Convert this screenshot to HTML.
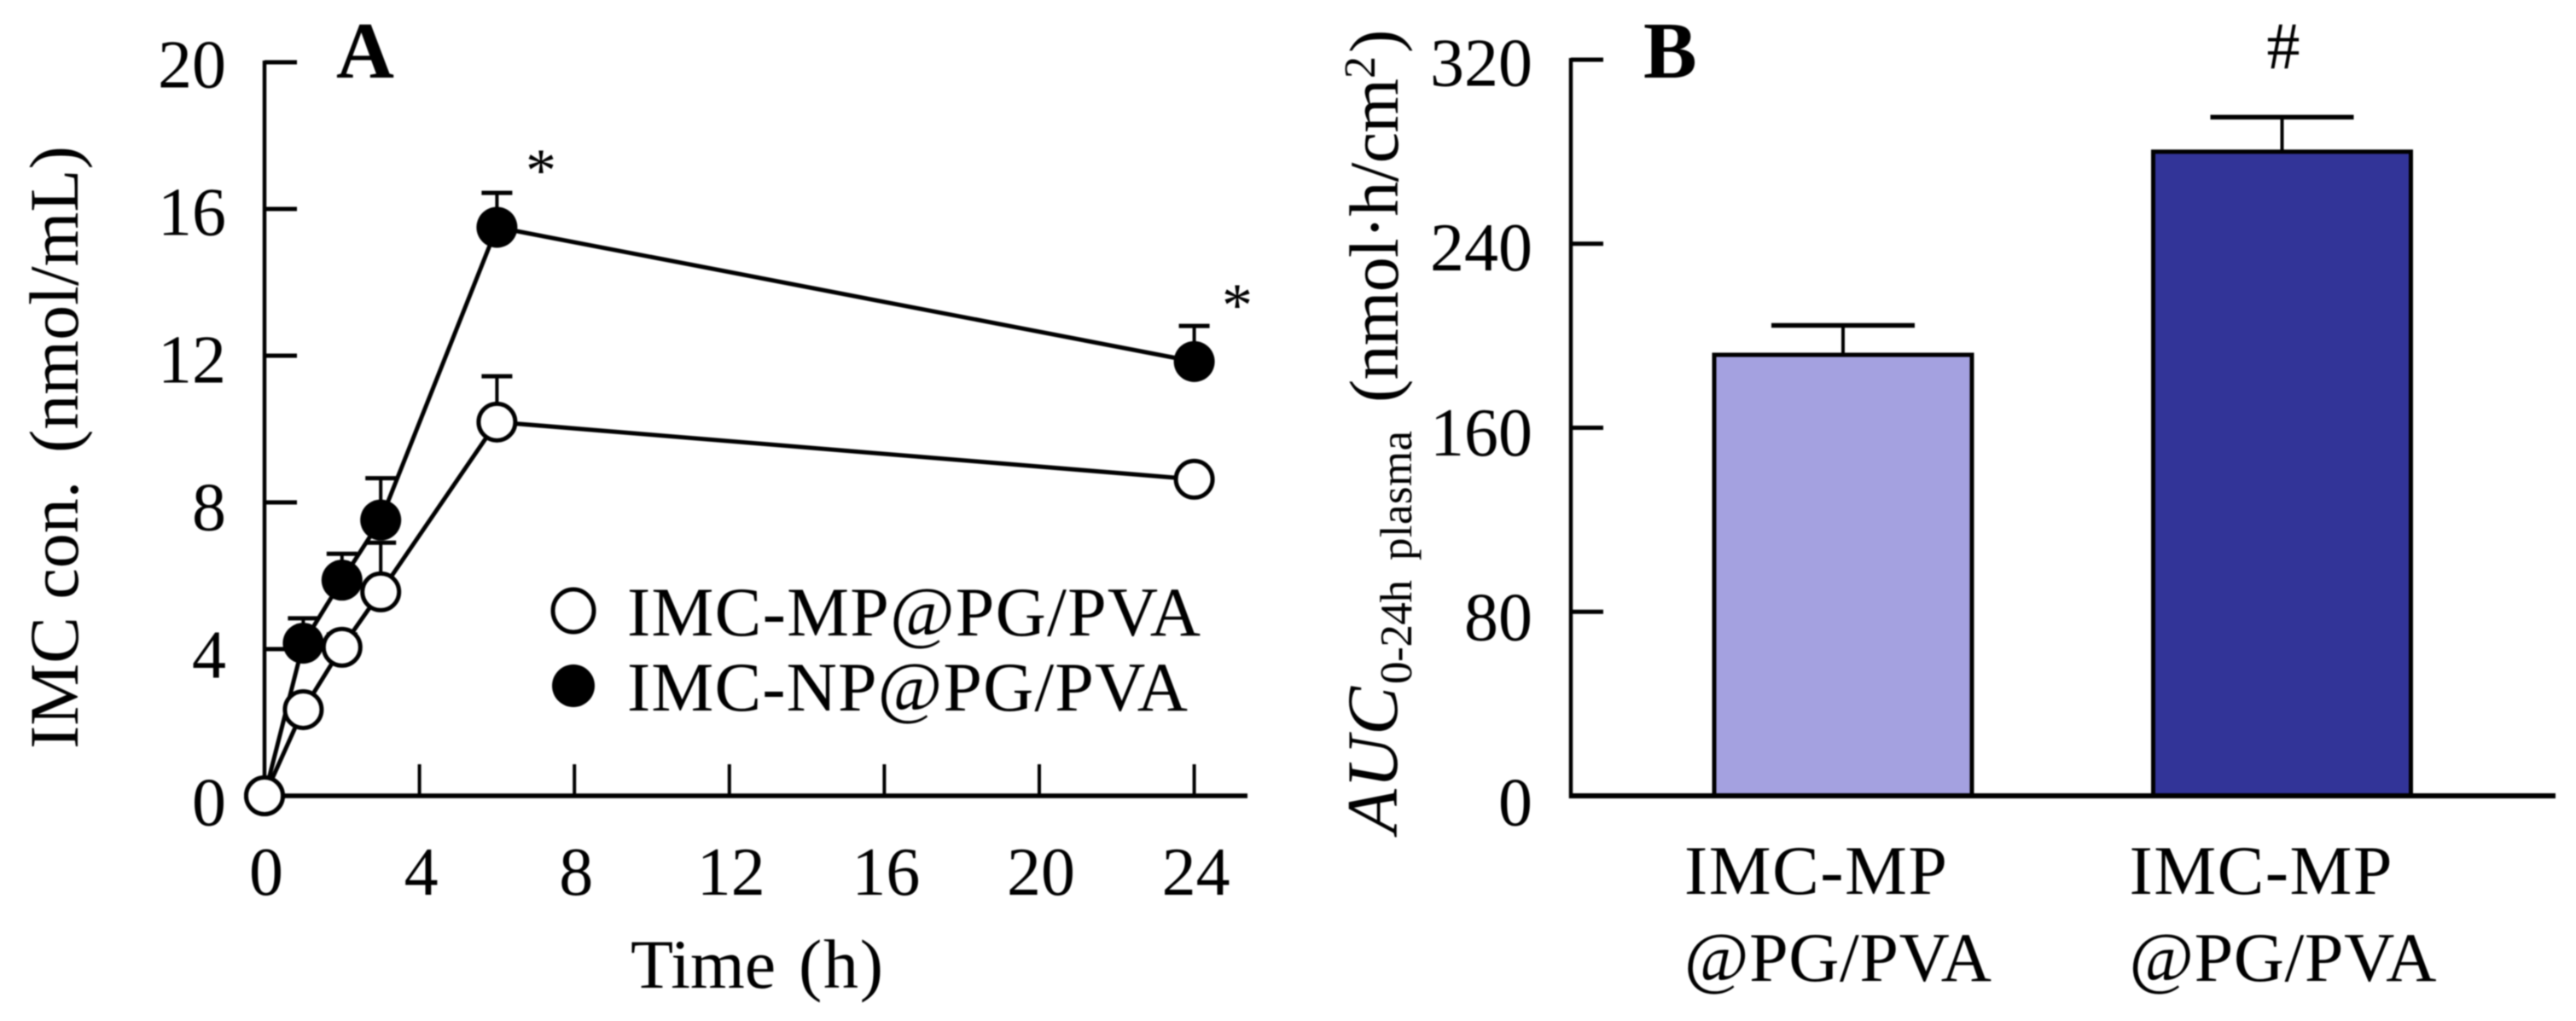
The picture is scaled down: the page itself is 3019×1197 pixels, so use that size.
<!DOCTYPE html>
<html lang="en">
<head>
<meta charset="utf-8">
<title>IMC plasma concentration and AUC</title>
<style>
html,body{margin:0;padding:0;background:#fff;width:3019px;height:1197px;overflow:hidden}
svg{display:block;font-family:"Liberation Serif",serif;fill:#000;filter:blur(0.7px)}
</style>
</head>
<body>
<svg id="figure" xmlns="http://www.w3.org/2000/svg" width="3019" height="1197" viewBox="0 0 3019 1197">
  <rect x="0" y="0" width="3019" height="1197" fill="#fff"/>
  <g id="panel-a"></g>
  <g id="panel-b"></g>

  <g>
    <text x="394" y="91" font-size="94" font-weight="bold">A</text>
    <text x="739" y="1158" font-size="82">Time</text>
    <text x="936" y="1158" font-size="82" textLength="99">(h)</text>
    <text transform="translate(91,878) rotate(-90)" font-size="82">IMC con.</text>
    <text transform="translate(91,531) rotate(-90)" font-size="82">(nmol/mL)</text>
    <text x="634" y="224" font-size="72" text-anchor="middle">*</text>
    <text x="1450" y="382" font-size="72" text-anchor="middle">*</text>
    <text x="735" y="745" font-size="82" textLength="672">IMC-MP@PG/PVA</text>
    <text x="735" y="833" font-size="82" textLength="657">IMC-NP@PG/PVA</text>
    <ellipse cx="672" cy="716" rx="24" ry="25" fill="#fff" stroke="#000" stroke-width="5"/>
    <ellipse cx="672" cy="804" rx="25" ry="25" fill="#000"/>
  </g>

  <g>
    <text x="1926" y="91" font-size="94" font-weight="bold">B</text>
    <text x="2676" y="80" font-size="78" text-anchor="middle">#</text>
    <text transform="translate(1637,977) rotate(-90)" font-size="85" font-style="italic" textLength="172">AUC</text>
    <text transform="translate(1654,802) rotate(-90)" font-size="53" textLength="122">0-24h</text>
    <text transform="translate(1654,657) rotate(-90)" font-size="53" textLength="152">plasma</text>
    <text transform="translate(1638,472) rotate(-90)" font-size="82" textLength="380">(nmol·h/cm</text>
    <text transform="translate(1611,92) rotate(-90)" font-size="52">2</text>
    <text transform="translate(1638,62) rotate(-90)" font-size="82">)</text>
  </g>
</svg>

<script>
const timeHours = [0, 1, 2, 3, 6, 24];
const mpMeans = [0, 2.35, 4.05, 5.56, 10.19, 8.63];
const mpUpper = [0, 2.6, 4.4, 6.9, 11.44, 8.95];
const npMeans = [0, 4.16, 5.88, 7.52, 15.5, 11.84];
const npUpper = [0, 4.84, 6.6, 8.66, 16.44, 12.81];
const yTicksA = [0, 4, 8, 12, 16, 20];
const xTicksA = [0, 4, 8, 12, 16, 20, 24];

const barNames = ["mp", "np"];
const barLabelLine1 = ["IMC-MP", "IMC-MP"];
const barLabelLine2 = ["@PG/PVA", "@PG/PVA"];
const barValues = [191.7, 280];
const barUpper = [204.5, 295];
const yTicksB = [0, 80, 160, 240, 320];

const NS = "http://www.w3.org/2000/svg";
const panelA = document.getElementById("panel-a");
const panelB = document.getElementById("panel-b");

function xA(v) { return 310 + v * 45.4; }
function yA(v) { return 933 - v * 43; }
function yALabel(v) { return 967.5 - v * 43.25; }
function yB(v) { return 933 - v * 2.697; }
function yBLabel(v) { return 967.5 - v * 2.71; }
function xB(i) { return 2160 + i * 514.5; }

function shape(parent, tag, attrs) {
  const el = document.createElementNS(NS, tag);
  for (const k in attrs) el.setAttribute(k, attrs[k]);
  parent.appendChild(el);
  return el;
}
function line(parent, x1, y1, x2, y2, w) {
  return shape(parent, "line", { x1: x1, y1: y1, x2: x2, y2: y2, stroke: "#000", "stroke-width": w });
}
function label(parent, x, y, str, anchor, size, length) {
  const el = shape(parent, "text", { x: x, y: y, "text-anchor": anchor, "font-size": size });
  if (length) el.setAttribute("textLength", length);
  el.textContent = str;
  return el;
}

/* ---------- Panel A axes ---------- */
let el = line(panelA, xA(0), yA(20) - 2, xA(0), yA(0) + 3, 4.5);


el = line(panelA, xA(0) - 2, yA(0), 1462, yA(0), 5.5);



yTicksA.forEach(function (t) {
  if (t !== 0) {
    const tick = line(panelA, xA(0), yA(t), xA(0) + 38, yA(t), 5);
    
    
  }
  const txt = label(panelA, 265, yALabel(t), String(t), "end", 80);
  
  
});
xTicksA.forEach(function (t) {
  if (t !== 0) {
    const tick = line(panelA, xA(t), yA(0), xA(t), yA(0) - 37, 4);
    
    
  }
  const txt = label(panelA, xA(t) + 2, 1049, String(t), "middle", 80);
  
  
});

/* ---------- Panel A series ---------- */
function drawSeries(name, means, upper, filled) {
  const g = shape(panelA, "g", {});
  
  

  const pts = timeHours.map(function (t, i) { return xA(t) + "," + yA(means[i]); }).join(" ");
  const path = shape(g, "polyline", { points: pts, fill: "none", stroke: "#000", "stroke-width": 5, "stroke-linejoin": "round" });
  
  

  timeHours.forEach(function (t, i) {
    if (t === 0) return;
    const stem = line(g, xA(t), yA(means[i]), xA(t), yA(upper[i]), 4);
    
    
    const cap = line(g, xA(t) - 18, yA(upper[i]), xA(t) + 18, yA(upper[i]), 5);
    
    
  });
  timeHours.forEach(function (t, i) {
    const attrs = filled
      ? { cx: xA(t), cy: yA(means[i]), r: 24, fill: "#000" }
      : { cx: xA(t), cy: yA(means[i]), r: 21.5, fill: "#fff", stroke: "#000", "stroke-width": 5 };
    const dot = shape(g, "circle", attrs);
    
    
  });
}
drawSeries("np", npMeans, npUpper, true);
drawSeries("mp", mpMeans, mpUpper, false);

/* ---------- Panel B axes ---------- */
el = line(panelB, 1841, yB(320) - 2, 1841, yB(0) + 3, 4.5);



yTicksB.forEach(function (t) {
  if (t !== 0) {
    const tick = line(panelB, 1841, yB(t), 1879, yB(t), 5);
    
    
  }
  const txt = label(panelB, 1796, yBLabel(t), String(t), "end", 80);
  
  
});

/* ---------- Panel B bars ---------- */
const barFills = ["#a4a1e0", "#323498"];
barValues.forEach(function (v, i) {
  const cx = xB(i);
  const stem = line(panelB, cx, yB(v), cx, yB(barUpper[i]), 4);
  
  
  const cap = line(panelB, cx - 84, yB(barUpper[i]), cx + 84, yB(barUpper[i]), 5.5);
  
  

  const bar = shape(panelB, "rect", { x: cx - 151, y: yB(v), width: 302, height: yB(0) - yB(v), fill: barFills[i], stroke: "#000", "stroke-width": 5 });
  
  

  const l1 = label(panelB, cx - 186 + i * 7, 1048, barLabelLine1[i], "start", 82, 308);
  
  
  const l2 = label(panelB, cx - 186 + i * 7, 1150, barLabelLine2[i], "start", 82, 360);
  
  
});
el = line(panelB, 1839, yB(0), 2995, yB(0), 6);


</script>
</body>
</html>
